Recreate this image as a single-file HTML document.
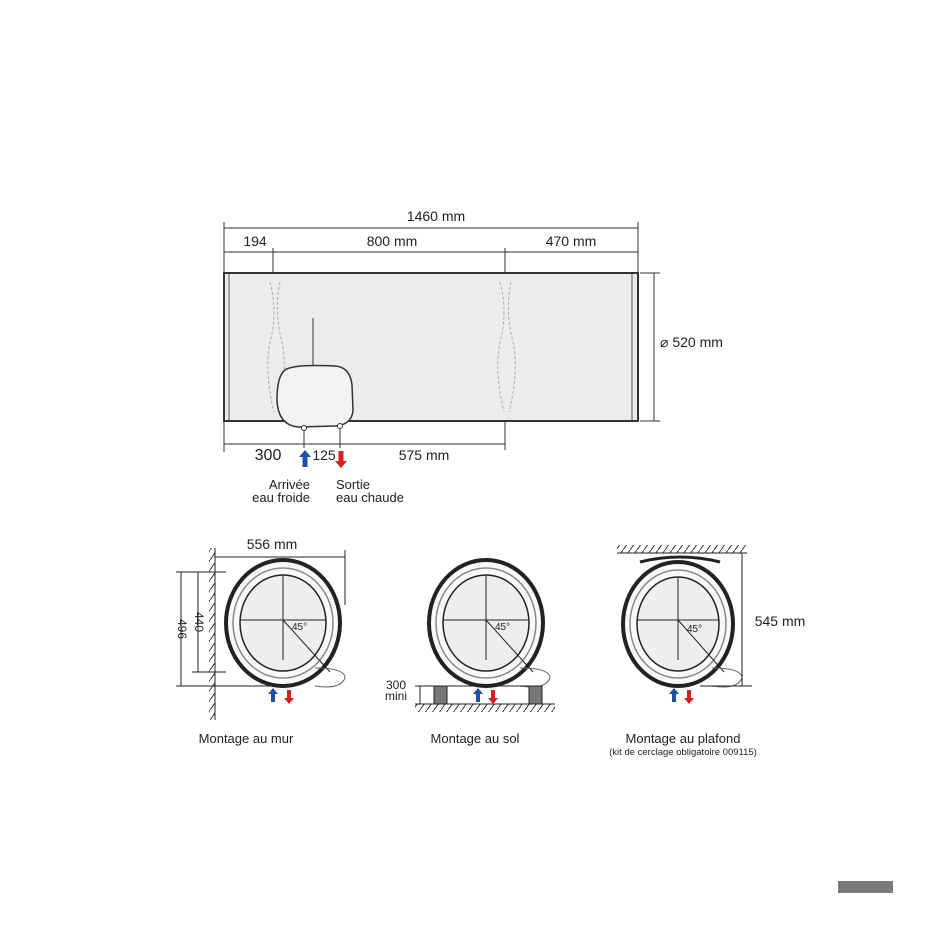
<!DOCTYPE html>
<html><head><meta charset="utf-8"><style>
html,body{margin:0;padding:0;background:#fff;}
svg{display:block;font-family:"Liberation Sans",sans-serif;}
</style></head><body>
<svg width="940" height="940" viewBox="0 0 940 940" xmlns="http://www.w3.org/2000/svg">
<defs>
<pattern id="h" width="7" height="10" patternUnits="userSpaceOnUse"><line x1="0" y1="10" x2="7" y2="0" stroke="#333" stroke-width="1"/></pattern>
<marker id="ar" markerWidth="6" markerHeight="6" refX="3" refY="3" orient="auto"><circle cx="3" cy="3" r="1.4" fill="#333"/></marker>
</defs>
<g stroke="#333" fill="none" stroke-width="1">
<!-- top dims -->
<line x1="224" y1="228" x2="638" y2="228"/>
<line x1="224" y1="252" x2="638" y2="252"/>
<line x1="224" y1="222" x2="224" y2="452"/>
<line x1="638" y1="222" x2="638" y2="273"/>
<line x1="273" y1="248" x2="273" y2="280"/>
<line x1="505" y1="248" x2="505" y2="450"/>
<line x1="224" y1="444" x2="505" y2="444"/>
<line x1="304" y1="428" x2="304" y2="448"/>
<line x1="340" y1="428" x2="340" y2="448"/>
<line x1="654" y1="273" x2="654" y2="421"/>
<line x1="640" y1="273" x2="660" y2="273"/>
<line x1="640" y1="421" x2="660" y2="421"/>
</g>
<!-- tank -->
<rect x="224" y="273" width="414" height="148" fill="#ececec" stroke="#333" stroke-width="2"/>
<line x1="229" y1="274" x2="229" y2="420" stroke="#555"/>
<line x1="632" y1="274" x2="632" y2="420" stroke="#555"/>
<path d="M270 282 q8 30 0 60 q-6 30 4 70 M280 282 q-6 30 2 60 q6 30 -4 70" stroke="#aaa" stroke-dasharray="3 2" fill="none"/>
<path d="M500 282 q8 30 0 60 q-6 30 4 70 M511 282 q-6 30 2 60 q6 30 -4 70" stroke="#aaa" stroke-dasharray="3 2" fill="none"/>
<line x1="313" y1="318" x2="313" y2="366" stroke="#333"/>
<path d="M285 370 Q293 364 335 366 Q350 367 352 385 L353 410 Q352 425 335 426 L298 427 Q278 425 277 400 Q277 376 285 370 Z" fill="#f3f3f3" stroke="#333" stroke-width="1.5"/>
<circle cx="304" cy="428" r="2.5" fill="#fff" stroke="#333"/>
<circle cx="340" cy="426" r="2.5" fill="#fff" stroke="#333"/>
<!-- top text -->
<g fill="#222" font-size="14">
<text x="436" y="221" text-anchor="middle">1460 mm</text>
<text x="255" y="246" text-anchor="middle">194</text>
<text x="392" y="246" text-anchor="middle">800 mm</text>
<text x="571" y="246" text-anchor="middle">470 mm</text>
<text x="660" y="347">⌀ 520 mm</text>
<text x="268" y="460" text-anchor="middle" font-size="16">300</text>
<text x="324" y="460" text-anchor="middle">125</text>
<text x="424" y="460" text-anchor="middle">575 mm</text>
<text x="310" y="489" text-anchor="end" font-size="13">Arrivée</text>
<text x="310" y="502" text-anchor="end" font-size="13">eau froide</text>
<text x="336" y="489" font-size="13">Sortie</text>
<text x="336" y="502" font-size="13">eau chaude</text>
</g>
<!-- arrows -->
<path d="M305 450 l-6 7 h3.5 v10 h5 v-10 h3.5 z" fill="#1f4fa8"/>
<path d="M341 468 l-6 -7 h3.5 v-10 h5 v10 h3.5 z" fill="#d62020"/>

<!-- bottom circles -->
<g id="c">
</g>
<g stroke="#222" fill="none">
<!-- wall -->
<rect x="209" y="548" width="6" height="172" fill="url(#h)" stroke="none"/>
<line x1="215" y1="548" x2="215" y2="720"/>
<ellipse cx="283" cy="623" rx="57" ry="63" stroke-width="4" fill="#fafafa"/>
<ellipse cx="283" cy="623" rx="50" ry="55" stroke="#888" stroke-width="1.5"/>
<ellipse cx="283" cy="623" rx="43" ry="48" stroke-width="1.5" fill="#eee"/>
<line x1="240" y1="620" x2="326" y2="620"/><line x1="283" y1="576" x2="283" y2="660"/>
<line x1="283" y1="620" x2="330" y2="672"/>
<path d="M315 668 q30 0 30 10 q-5 12 -30 8" stroke="#666"/>
<line x1="215" y1="557" x2="345" y2="557"/><line x1="345" y1="550" x2="345" y2="605"/>
<line x1="176" y1="572" x2="226" y2="572"/><line x1="181" y1="572" x2="181" y2="686"/>
<line x1="198" y1="572" x2="198" y2="672"/><line x1="192" y1="672" x2="226" y2="672"/>
<line x1="176" y1="686" x2="280" y2="686"/>
<!-- floor -->
<ellipse cx="486" cy="623" rx="57" ry="63" stroke-width="4" fill="#fafafa"/>
<ellipse cx="486" cy="623" rx="50" ry="55" stroke="#888" stroke-width="1.5"/>
<ellipse cx="486" cy="623" rx="43" ry="48" stroke-width="1.5" fill="#eee"/>
<line x1="443" y1="620" x2="529" y2="620"/><line x1="486" y1="576" x2="486" y2="660"/>
<line x1="486" y1="620" x2="533" y2="672"/>
<path d="M520 668 q30 0 30 10 q-5 12 -30 8" stroke="#666"/>
<rect x="415" y="704" width="140" height="8" fill="url(#h)" stroke="none"/>
<line x1="415" y1="704" x2="555" y2="704"/>
<line x1="415" y1="686" x2="540" y2="686"/>
<rect x="434" y="686" width="13" height="18" fill="#777"/>
<rect x="529" y="686" width="13" height="18" fill="#777"/>
<line x1="420" y1="686" x2="420" y2="704"/>
<!-- ceiling -->
<rect x="617" y="545" width="130" height="8" fill="url(#h)" stroke="none"/>
<line x1="617" y1="553" x2="747" y2="553"/>
<ellipse cx="678" cy="624" rx="55" ry="62" stroke-width="4" fill="#fafafa"/>
<ellipse cx="678" cy="624" rx="48" ry="54" stroke="#888" stroke-width="1.5"/>
<ellipse cx="678" cy="624" rx="41" ry="47" stroke-width="1.5" fill="#eee"/>
<line x1="637" y1="620" x2="719" y2="620"/><line x1="678" y1="578" x2="678" y2="660"/>
<line x1="678" y1="620" x2="724" y2="672"/>
<path d="M712 668 q30 0 30 10 q-5 12 -30 8" stroke="#666"/>
<path d="M640 562 q40 -10 80 0" stroke-width="3"/>
<line x1="742" y1="553" x2="742" y2="686"/><line x1="700" y1="686" x2="752" y2="686"/>
</g>
<!-- small arrows -->
<g>
<path d="M273 688 l-5 6 h3 v8 h4 v-8 h3 z" fill="#1f4fa8"/>
<path d="M289 704 l-5 -6 h3 v-8 h4 v8 h3 z" fill="#d62020"/>
<path d="M478 688 l-5 6 h3 v8 h4 v-8 h3 z" fill="#1f4fa8"/>
<path d="M493 704 l-5 -6 h3 v-8 h4 v8 h3 z" fill="#d62020"/>
<path d="M674 688 l-5 6 h3 v8 h4 v-8 h3 z" fill="#1f4fa8"/>
<path d="M689 704 l-5 -6 h3 v-8 h4 v8 h3 z" fill="#d62020"/>
</g>
<g fill="#222" font-size="14">
<text x="272" y="549" text-anchor="middle">556 mm</text>
<text x="780" y="626" text-anchor="middle">545 mm</text>
<text transform="translate(178,629) rotate(90)" text-anchor="middle" font-size="12">496</text>
<text transform="translate(195,622) rotate(90)" text-anchor="middle" font-size="12">440</text>
<text x="396" y="689" text-anchor="middle" font-size="12">300</text>
<text x="396" y="700" text-anchor="middle" font-size="12">mini</text>
<text x="292" y="630" font-size="10">45°</text>
<text x="495" y="630" font-size="10">45°</text>
<text x="687" y="632" font-size="10">45°</text>
<text x="246" y="743" text-anchor="middle" font-size="13">Montage au mur</text>
<text x="475" y="743" text-anchor="middle" font-size="13">Montage au sol</text>
<text x="683" y="743" text-anchor="middle" font-size="13">Montage au plafond</text>
<text x="683" y="755" text-anchor="middle" font-size="9.5">(kit de cerclage obligatoire 009115)</text>
</g>
<rect x="838" y="881" width="55" height="12" fill="#7a7a7a"/>
</svg>
</body></html>
